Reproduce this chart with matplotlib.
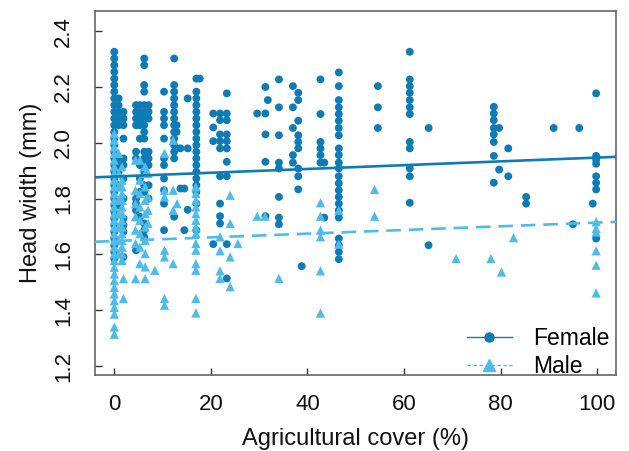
import matplotlib
matplotlib.use("Agg")
import matplotlib.pyplot as plt
from matplotlib.lines import Line2D

plt.rcParams['font.family'] = ['Liberation Sans', 'DejaVu Sans']

# ---------------- data ----------------
female_cols = [
    (0.0, [2.326, 2.302, 2.278, 2.254, 2.230, 2.207, 2.183, 2.159, 2.135, 2.111, 2.087, 2.063,
           2.039, 2.015, 1.992, 1.968, 1.944, 1.920, 1.896, 1.872, 1.848, 1.824, 1.800, 1.777,
           1.753, 1.729, 1.705, 1.681, 1.657, 1.633, 1.609, 1.585]),
    (0.9, [2.159, 2.135, 2.111, 2.087, 2.063, 1.944, 1.920, 1.896, 1.848, 1.777]),
    (1.9, [2.111, 2.087, 2.063, 2.015, 1.944, 1.920, 1.872, 1.800, 1.729, 1.705, 1.681, 1.591]),
    (4.5, [2.135, 2.111, 2.087, 2.063, 1.968, 1.944, 1.800, 1.782, 1.758, 1.615]),
    (5.3, [2.135, 2.111, 2.087, 2.063, 2.015, 1.920, 1.872, 1.824, 1.735]),
    (6.2, [2.302, 2.278, 2.207, 2.183, 2.135, 2.111, 2.087, 2.063, 2.039, 2.015, 1.968, 1.944,
           1.920, 1.896, 1.848, 1.824, 1.711, 1.687, 1.663]),
    (7.1, [2.135, 2.111, 2.087, 1.968, 1.944, 1.920, 1.848, 1.800]),
    (10.3, [2.183, 2.111, 2.087, 2.063, 2.015, 1.944, 1.920, 1.872, 1.830, 1.782, 1.687]),
    (12.4, [2.302, 2.207, 2.183, 2.159, 2.135, 2.111, 2.087, 2.063, 2.039, 2.015, 1.992, 1.968,
            1.944, 1.735]),
    (12.9, [2.063, 2.039]),
    (13.7, [1.980, 1.836]),
    (14.5, [1.836, 1.687]),
    (15.2, [2.159, 1.980, 1.760]),
    (17.0, [2.230, 2.183, 2.159, 2.135, 2.111, 2.087, 2.063, 2.039, 2.015, 1.992, 1.968, 1.944,
            1.920, 1.896, 1.872, 1.848, 1.824, 1.782, 1.687]),
    (17.7, [2.230]),
    (20.5, [2.105, 2.055, 2.006, 1.637]),
    (21.9, [2.105, 2.081, 2.030, 2.006, 1.980, 1.880, 1.782, 1.737, 1.711]),
    (23.3, [2.177, 2.105, 2.081, 2.030, 2.006, 1.980, 1.932, 1.880, 1.637, 1.514]),
    (29.6, [2.105]),
    (31.3, [2.200, 2.105, 2.030, 1.932, 1.737]),
    (31.8, [2.153]),
    (34.1, [2.227, 2.127, 2.027, 1.929, 1.908, 1.806, 1.732, 1.708]),
    (37.0, [2.203, 2.127, 2.053, 1.956, 1.929]),
    (38.1, [2.179, 2.153, 2.079, 2.027, 2.003, 1.980, 1.908, 1.880, 1.833]),
    (38.8, [1.558]),
    (42.7, [2.227, 2.103, 2.003, 1.980, 1.956, 1.929]),
    (43.5, [1.929, 1.732]),
    (46.5, [2.252, 2.203, 2.153, 2.127, 2.103, 2.079, 2.053, 2.027, 1.980, 1.956, 1.929, 1.908,
            1.880, 1.855, 1.830, 1.806, 1.782, 1.758, 1.732, 1.657, 1.633, 1.609, 1.583]),
    (54.6, [2.203, 2.127, 2.053]),
    (61.2, [2.326, 2.227, 2.203, 2.179, 2.153, 2.127, 2.103, 2.003, 1.980, 1.908, 1.880, 1.785]),
    (65.1, [2.053, 1.633]),
    (78.6, [2.129, 2.105, 2.081, 2.053, 2.030, 2.003, 1.953, 1.857]),
    (79.7, [2.053, 1.904]),
    (81.6, [1.980, 1.880]),
    (85.3, [1.806, 1.782]),
    (91.0, [2.053]),
    (95.0, [1.708]),
    (96.3, [2.053]),
    (99.1, [1.782]),
    (99.8, [2.177, 1.953, 1.940, 1.925, 1.880, 1.857, 1.833, 1.657]),
]

male_cols = [
    (0.0, [2.033, 2.009, 1.985, 1.962, 1.938, 1.914, 1.890, 1.866, 1.842, 1.818, 1.794, 1.770,
           1.746, 1.722, 1.698, 1.674, 1.650, 1.626, 1.602, 1.578, 1.554, 1.530, 1.506, 1.482,
           1.458, 1.434, 1.410, 1.386, 1.340, 1.314]),
    (0.9, [1.962, 1.890, 1.842, 1.794, 1.746, 1.698, 1.650, 1.602]),
    (1.6, [1.914, 1.866, 1.842, 1.818, 1.794, 1.770, 1.746, 1.722, 1.698, 1.674, 1.650, 1.626,
           1.602, 1.578]),
    (1.9, [1.513, 1.442]),
    (4.4, [1.938, 1.830, 1.782, 1.735, 1.687, 1.639, 1.513]),
    (5.3, [1.938, 1.866, 1.818, 1.770, 1.722, 1.674, 1.626, 1.567]),
    (6.4, [1.914, 1.890, 1.842, 1.794, 1.746, 1.698, 1.650, 1.603, 1.555, 1.513]),
    (7.0, [1.890, 1.806, 1.758, 1.711]),
    (8.4, [1.543]),
    (10.4, [1.962, 1.830, 1.806, 1.615, 1.591, 1.442, 1.418]),
    (12.2, [2.009, 1.830, 1.758, 1.567]),
    (13.0, [1.782]),
    (16.9, [1.842, 1.818, 1.794, 1.770, 1.746, 1.722, 1.698, 1.675, 1.639, 1.615, 1.567, 1.543,
            1.442, 1.390]),
    (21.9, [1.663, 1.613, 1.541, 1.514]),
    (24.0, [1.812, 1.711, 1.591, 1.484]),
    (25.6, [1.639]),
    (29.6, [1.737]),
    (31.2, [1.737]),
    (34.1, [1.514]),
    (42.7, [1.785, 1.737, 1.687, 1.663, 1.541, 1.390]),
    (46.5, [1.758, 1.637]),
    (53.9, [1.833, 1.737]),
    (70.8, [1.585]),
    (78.0, [1.585]),
    (80.2, [1.537]),
    (82.7, [1.660]),
    (99.8, [1.717, 1.693, 1.680, 1.613, 1.561, 1.462]),
]

# fitted lines (intercept, slope)
female_fit = (1.879, 0.00068)
male_fit = (1.648, 0.00066)

x_ticks = [0, 20, 40, 60, 80, 100]
y_ticks = [1.2, 1.4, 1.6, 1.8, 2.0, 2.2, 2.4]
y_tick_labels = ["1.2", "1.4", "1.6", "1.8", "2.0", "2.2", "2.4"]

# ---------------- build flat arrays ----------------
fx = [x for x, ys in female_cols for _ in ys]
fy = [y for _, ys in female_cols for y in ys]
mx = [x for x, ys in male_cols for _ in ys]
my = [y for _, ys in male_cols for y in ys]

c_f = '#0e7bb5'
c_m = '#4fbbe9'

fig = plt.figure(figsize=(6.29, 4.51), dpi=100)
ax = fig.add_axes([0.151, 0.1685, 0.829, 0.807])

ax.scatter(fx, fy, marker='o', s=32, color=c_f, edgecolors='none', zorder=2)
ax.scatter(mx, my, marker='^', s=44, color=c_m, edgecolors='none', zorder=3)

ax.axline((0, female_fit[0]), slope=female_fit[1], color=c_f, lw=1.9, zorder=4)
ax.axline((0, male_fit[0]), slope=male_fit[1], color=c_m, lw=1.9, ls=(0, (5.5, 3)), zorder=4)

ax.set_xlim(-4, 104)
ax.set_ylim(1.168, 2.472)
ax.set_xticks(x_ticks)
ax.set_yticks(y_ticks)
ax.set_yticklabels(y_tick_labels, rotation=90, va='center')

ax.tick_params(direction='in', length=5, width=1, colors='#333333', labelsize=16,
               labelcolor='#111111')
ax.tick_params(axis='y', pad=15)
ax.tick_params(axis='x', pad=14)
for s in ax.spines.values():
    s.set_color('#666666')
    s.set_linewidth(1.2)

ax.set_xlabel('Agricultural cover (%)', fontsize=17, labelpad=9, color='#111111')
ax.set_ylabel('Head width (mm)', fontsize=17, labelpad=8, color='#111111')

handles = [
    Line2D([], [], color=c_f, lw=1, marker='o', markersize=6.5, ls='-'),
    Line2D([], [], color=c_m, lw=1, marker='^', markersize=8, ls=(0, (2.5, 1.8))),
]
ax.legend(handles, ['Female', 'Male'], loc='lower right', frameon=False, fontsize=16.5,
          handlelength=2.0, handletextpad=0.9, labelspacing=0.2,
          bbox_to_anchor=(1.026, -0.065))

fig.savefig('out.png', dpi=100)
